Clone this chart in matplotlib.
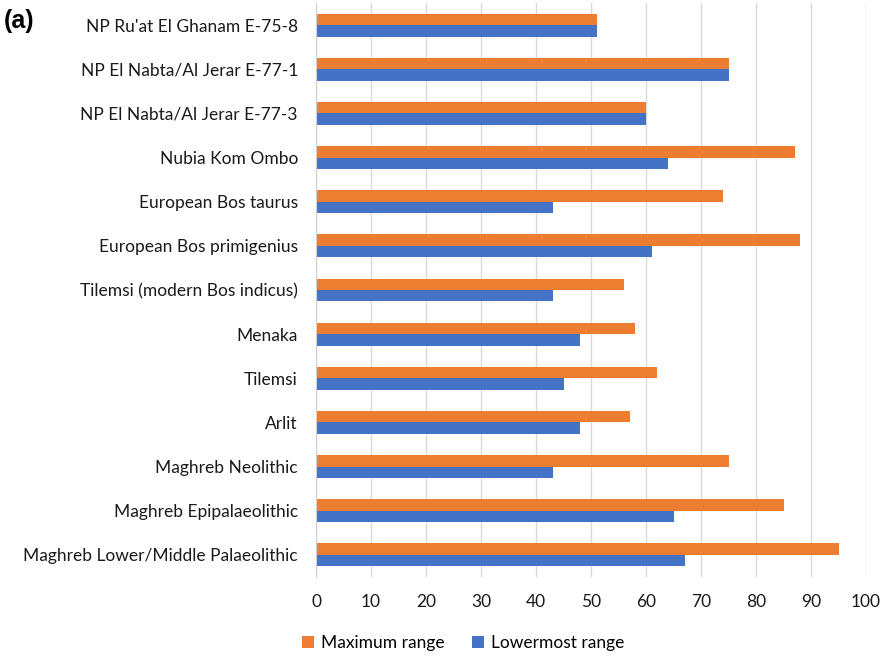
import numpy as np
import matplotlib
matplotlib.use("Agg")
import matplotlib.pyplot as plt

# categories listed top to bottom, as in the chart
sites = ["NP Ru'at El Ghanam E-75-8",
         "NP El Nabta/Al Jerar E-77-1",
         "NP El Nabta/Al Jerar E-77-3",
         "Nubia Kom Ombo",
         "European Bos taurus",
         "European Bos primigenius",
         "Tilemsi (modern Bos indicus)",
         "Menaka",
         "Tilemsi",
         "Arlit",
         "Maghreb Neolithic",
         "Maghreb Epipalaeolithic",
         "Maghreb Lower/Middle Palaeolithic"]
max_range = [51, 75, 60, 87, 74, 88, 56, 58, 62, 57, 75, 85, 95]
low_range = [51, 75, 60, 64, 43, 61, 43, 48, 45, 48, 43, 65, 67]
xticks = [0, 10, 20, 30, 40, 50, 60, 70, 80, 90, 100]

orange = "#ED7D31"
blue = "#4472C4"

plt.rcParams['font.family'] = ['Lato', 'DejaVu Sans']

fig = plt.figure(figsize=(8.9, 6.56), dpi=100)
ax = fig.add_axes([316/890, 1-577/656, 550/890, 574/656])

n = len(sites)
ypos = n - 1 - np.arange(n)     # first site at the top
h = 0.26
ax.barh(ypos + h/2, max_range, height=h, color=orange, label="Maximum range", zorder=3)
ax.barh(ypos - h/2, low_range, height=h, color=blue, label="Lowermost range", zorder=3)

ax.set_xlim(0, 100)
ax.set_ylim(-0.5, n - 0.5)
ax.set_xticks(xticks)
ax.set_yticks(ypos)
ax.set_yticklabels(sites)
ax.tick_params(axis='y', length=0, pad=13, labelsize=12.5, labelcolor='#1a1a1a')
ax.tick_params(axis='x', length=0, pad=12, labelsize=12.5, labelcolor='#1a1a1a')

ax.grid(axis='x', color='#d9d9d9', linewidth=1.0, zorder=0)
for s in ['top', 'right', 'bottom']:
    ax.spines[s].set_visible(False)
ax.spines['left'].set_color('#d0d0d0')
ax.spines['left'].set_zorder(4)

fig.legend(loc='center', bbox_to_anchor=(463/890, 1-643/656), ncol=2, frameon=False,
           fontsize=12.5, handlelength=0.7, handleheight=0.7, handletextpad=0.4,
           columnspacing=1.6)

fig.text(4/890, 1-21/656, "(a)", fontsize=18, fontweight='bold',
         family=['Liberation Sans', 'DejaVu Sans'], va='center', ha='left')

fig.savefig("out.png", dpi=100)
